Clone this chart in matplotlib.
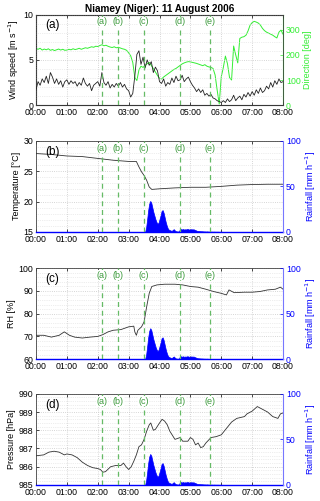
import numpy as np
import matplotlib.pyplot as plt
from matplotlib.ticker import MultipleLocator

plt.rcParams['font.family'] = ['Liberation Sans', 'DejaVu Sans']
plt.rcParams['font.size'] = 6

# time axis in minutes after 00:00
hour_ticks = [0, 60, 120, 180, 240, 300, 360, 420, 480]
hour_labels = ['00:00', '01:00', '02:00', '03:00', '04:00', '05:00', '06:00', '07:00', '08:00']

# wind, every 4 minutes
wind_time = np.arange(0, 481, 4)
wind_speed = [
    1.7, 2.6, 2.2, 2.9, 2.5, 3.2, 2.4, 3.6, 3.1, 2.4, 2.9, 2.3, 2.7, 2.0, 2.6,
    2.8, 2.3, 2.7, 2.4, 2.6, 2.1, 2.5, 2.2, 3.0, 2.4, 2.1, 2.4, 1.6, 2.2, 2.4,
    2.6, 2.1, 3.6, 2.5, 2.2, 2.6, 1.9, 2.3, 2.0, 2.4, 2.1, 2.5, 2.0, 2.3, 1.8,
    1.6, 0.9, 1.3, 3.2, 5.6, 6.0, 4.5, 5.3, 4.1, 5.0, 4.4, 4.8, 3.6, 4.2, 3.8,
    2.6, 2.4, 2.9, 2.1, 2.5, 2.3, 3.0, 2.5, 3.2, 2.7, 2.8, 3.3, 2.6, 2.9, 3.1,
    2.6, 2.2, 1.9, 1.5, 1.8, 1.4, 1.7, 1.1, 1.3, 1.0, 1.2, 0.8, 0.7, 0.5, 0.4,
    0.3, 0.5, 0.3, 0.7, 0.4, 0.6, 1.1, 0.5, 0.8, 1.0, 0.6, 1.2, 0.9, 1.4, 1.0,
    1.5, 1.1, 1.7, 1.3, 1.9, 1.4, 1.6, 2.1, 1.8, 2.5, 2.0, 2.7, 2.3, 2.9, 2.5,
    2.6]
wind_dir = [
    225, 222, 226, 219, 223, 220, 224, 218, 221, 217, 220, 223, 219, 222, 218,
    219, 222, 220, 224, 221, 223, 226, 222, 225, 228, 226, 229, 232, 230, 234,
    233, 237, 240, 236, 238, 234, 231, 229, 232, 228, 230, 227, 224, 222, 218,
    208, 196, 170, 110, 98, 140, 155, 150, 158, 165, 170, 158, 145, 132, 118,
    107, 104, 112, 118, 124, 130, 136, 142, 146, 152, 158, 164, 168, 171, 173,
    172, 170, 168, 166, 163, 160, 157, 161, 155, 152, 150, 146, 120, 60, 5,
    113, 150, 195, 165, 110, 100, 235, 200, 168, 265, 270, 272, 278, 295, 318,
    328, 333, 330, 326, 318, 305, 296, 290, 286, 282, 278, 272, 267, 290, 298,
    282]

# temperature, RH, pressure (smooth traces)
temp_time = [0, 30, 60, 90, 120, 150, 180, 195, 200, 205, 210, 215, 220, 225,
             240, 270, 300, 330, 360, 390, 420, 450, 480]
temperature = [27.9, 27.75, 27.5, 27.4, 27.1, 26.8, 26.6, 26.6, 25.7, 24.9, 24.3, 23.5,
               22.4, 22.0, 22.1, 22.25, 22.35, 22.35, 22.5, 22.7, 22.8, 22.85, 22.85]

rh_time = [0, 15, 30, 45, 55, 65, 75, 90, 105, 120, 130, 140, 150, 165, 180, 190,
           192, 195, 198, 205, 210, 215, 220, 225, 235, 250, 270, 285, 300, 315,
           330, 345, 360, 370, 375, 385, 405, 420, 435, 450, 465, 475, 480]
rh = [70.5, 70.5, 69.7, 70.5, 72.0, 70.5, 69.7, 69.3, 69.7, 70.0, 70.8, 72.0, 72.7,
      73.0, 74.2, 74.5, 72.0, 70.5, 72.7, 74.2, 76.4, 83.0, 88.9, 91.9, 92.6, 92.9,
      92.9, 92.6, 91.9, 91.6, 90.7, 89.7, 88.9, 88.2, 90.4, 89.2, 89.4, 89.4, 89.7,
      90.4, 90.7, 91.6, 90.7]

pres_time = [0, 15, 25, 35, 45, 55, 60, 70, 80, 90, 100, 110, 120, 125, 130, 135,
             145, 155, 165, 170, 175, 180, 185, 190, 195, 200, 205, 210, 215, 220,
             223, 228, 232, 240, 245, 250, 255, 260, 270, 280, 285, 295, 300, 305,
             310, 315, 320, 325, 330, 340, 350, 360, 370, 380, 390, 405, 410, 420,
             430, 440, 450, 460, 470, 475, 480]
pressure = [986.6, 986.65, 986.8, 986.85, 986.8, 986.65, 986.7, 986.65, 986.5, 986.25,
            986.07, 985.95, 985.9, 985.85, 985.7, 985.73, 986.0, 986.07, 986.07, 986.2,
            986.0, 985.85, 986.0, 986.3, 986.65, 987.1, 987.2, 987.5, 987.95, 988.3,
            988.4, 988.0, 988.05, 988.4, 988.6, 988.5, 988.3, 987.95, 987.5, 987.6,
            987.4, 987.4, 987.6, 987.5, 987.2, 987.3, 987.05, 987.1, 987.3, 987.6,
            987.65, 987.75, 988.1, 988.45, 988.65, 988.75, 988.9, 989.05, 989.3, 989.15,
            989.0, 988.75, 988.65, 988.9, 988.95]

# rainfall, every 2 minutes from 03:30 to 06:06 (zero elsewhere)
rain_time = np.arange(210, 368, 2)
rainfall = [
    0, 0, 5, 14, 24, 31, 34, 32, 27, 22, 18, 14, 11, 9, 10, 14, 18, 23, 24, 21,
    16, 11, 7, 4, 2.5, 2, 1.5, 1.2, 2.5, 3, 1.5, 0.8, 0.6, 0.5, 0.8, 3.5, 3, 2.8,
    3.2, 2.6, 3, 2.8, 3.3, 3, 2.6, 2.8, 3.1, 2.7, 3, 2.4, 2, 1.4, 1.1, 1, 0.9, 0.8,
    0.8, 0.7, 0.6, 0.6, 0.5, 0.6, 0.5, 0.4, 0.5, 0.4, 0.4, 0.3, 0.4, 0.3, 0.3, 0.3,
    0.3, 0.2, 0.3, 0.2, 0.2, 0.1, 0]

# event markers
event_time = [129, 160, 209, 279, 339]
event_names = ['(a)', '(b)', '(c)', '(d)', '(e)']

dir_green = '#33ee33'
ev_green = '#3c9a3c'
rain_blue = '#0000ff'

fig = plt.figure(figsize=(3.2, 5.01), dpi=100)
rects = [[0.1125, 0.790, 0.772, 0.181],
         [0.1125, 0.537, 0.772, 0.182],
         [0.1125, 0.283, 0.772, 0.182],
         [0.1125, 0.032, 0.772, 0.182]]


def setup(ax):
    ax.set_xlim(0, 480)
    ax.set_xticks(hour_ticks)
    ax.set_xticklabels(hour_labels)
    ax.set_axisbelow(True)
    ax.grid(True, which='major', color='#c8c8c8', linestyle=':', linewidth=0.6)
    ax.grid(True, which='minor', axis='y', color='#dcdcdc', linestyle=':', linewidth=0.5)
    ax.tick_params(direction='in', length=2, width=0.5, top=True, pad=2, labelsize=6.3)
    ax.tick_params(which='minor', length=0)
    for s in ax.spines.values():
        s.set_linewidth(0.6)
        s.set_color('#444444')


def events(ax):
    for t, name in zip(event_time, event_names):
        ax.axvline(t, color='#66bb66', linestyle=(0, (4, 3)), linewidth=0.9, zorder=4)
        ax.text(t, 0.92, name, transform=ax.get_xaxis_transform(), color=ev_green,
                ha='center', va='center', fontsize=6.5, zorder=5,
                bbox=dict(facecolor='white', edgecolor='none', pad=0.3))


def rain_axis(ax):
    # rainfall drawn in the main axes on a 0-100 axes-fraction scale, right axis for ticks
    t = np.concatenate([[0], rain_time, [480]])
    r = np.concatenate([[0], rainfall, [0]]) / 100.0
    tr = ax.get_xaxis_transform()
    ax.fill_between(t, 0, r, color=rain_blue, linewidth=0.5, transform=tr, zorder=2)
    ax.spines['bottom'].set_color(rain_blue)
    ax.spines['bottom'].set_linewidth(1.0)
    ax2 = ax.twinx()
    ax2.set_ylim(0, 100)
    ax2.set_yticks([0, 50, 100])
    ax2.set_ylabel('Rainfall [mm h$^{-1}$]', color=rain_blue, fontsize=6.5, labelpad=2)
    ax2.tick_params(axis='y', colors=rain_blue, direction='in', length=2, width=0.5,
                    pad=2, labelsize=6.3)
    ax2.spines['right'].set_color('#7777ff')
    for s in ['left', 'top', 'bottom']:
        ax2.spines[s].set_visible(False)
    return ax2


# (a) wind
ax = fig.add_axes(rects[0])
setup(ax)
axd = ax.twinx()
axd.plot(wind_time, wind_dir, color=dir_green, linewidth=0.7)
axd.set_ylim(0, 360)
axd.set_yticks([0, 100, 200, 300])
axd.set_ylabel('Direction [deg]', color=dir_green, fontsize=6.5, labelpad=2)
axd.tick_params(axis='y', colors=dir_green, direction='in', length=2, width=0.5, pad=2,
                labelsize=6.3)
axd.spines['right'].set_color(dir_green)
ax.plot(wind_time, wind_speed, color='#222222', linewidth=0.6, zorder=3)
ax.set_zorder(axd.get_zorder() + 1)
ax.patch.set_visible(False)
ax.set_ylim(0, 10)
ax.set_yticks([0, 5, 10])
ax.yaxis.set_minor_locator(MultipleLocator(1))
ax.set_ylabel('Wind speed [m s$^{-1}$]', fontsize=6.5, labelpad=2)
ax.text(0.036, 0.88, '(a)', transform=ax.transAxes, fontsize=8.5, va='center')
events(ax)
ax.set_title('Niamey (Niger): 11 August 2006', fontsize=7.2, fontweight='bold', pad=2)

# (b) temperature
ax = fig.add_axes(rects[1])
setup(ax)
rain_axis(ax)
ax.plot(temp_time, temperature, color='#333333', linewidth=0.6, zorder=3)
ax.set_ylim(15, 30)
ax.set_yticks([15, 20, 25, 30])
ax.yaxis.set_minor_locator(MultipleLocator(1))
ax.set_ylabel('Temperature [°C]', fontsize=6.5, labelpad=2)
ax.text(0.036, 0.88, '(b)', transform=ax.transAxes, fontsize=8.5, va='center')
events(ax)

# (c) relative humidity
ax = fig.add_axes(rects[2])
setup(ax)
rain_axis(ax)
ax.plot(rh_time, rh, color='#333333', linewidth=0.6, zorder=3)
ax.set_ylim(60, 100)
ax.set_yticks([60, 70, 80, 90, 100])
ax.yaxis.set_minor_locator(MultipleLocator(2))
ax.set_ylabel('RH [%]', fontsize=6.5, labelpad=2)
ax.text(0.036, 0.88, '(c)', transform=ax.transAxes, fontsize=8.5, va='center')
events(ax)

# (d) pressure
ax = fig.add_axes(rects[3])
setup(ax)
rain_axis(ax)
ax.plot(pres_time, pressure, color='#333333', linewidth=0.6, zorder=3)
ax.set_ylim(985, 990)
ax.set_yticks([985, 986, 987, 988, 989, 990])
ax.yaxis.set_minor_locator(MultipleLocator(0.2))
ax.set_ylabel('Pressure [hPa]', fontsize=6.5, labelpad=2)
ax.text(0.036, 0.88, '(d)', transform=ax.transAxes, fontsize=8.5, va='center')
events(ax)

fig.savefig('out.png', dpi=100)
